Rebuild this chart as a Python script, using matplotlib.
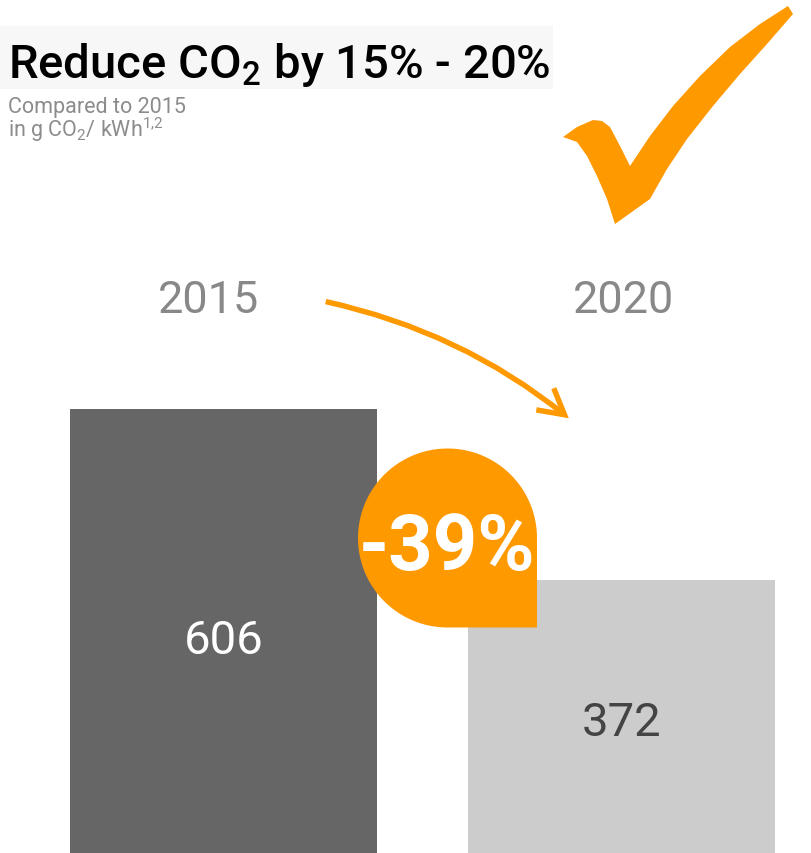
import matplotlib
matplotlib.use("Agg")
import matplotlib.pyplot as plt
from matplotlib.patches import Polygon, Rectangle, FancyArrowPatch
import numpy as np

plt.rcParams['font.family'] = ['Roboto', 'DejaVu Sans']

years = ['2015', '2020']
values = [606, 372]
bar_colors = ['#666666', '#cccccc']
label_colors = ['white', '#444444']
change = '-39%'
orange = '#ff9900'

W, H = 812, 854
fig = plt.figure(figsize=(W / 100, H / 100), dpi=100)

# bars
ax = fig.add_axes([0, 0, 1, 1])
ax.bar(range(len(values)), values, width=0.771, color=bar_colors)
ax.set_xlim(-0.5616, 1.4786)
ax.set_ylim(0, 1165.6)
ax.axis('off')
for i, v in enumerate(values):
    ax.text(i, v * 0.48, str(v), ha='center', va='center', fontsize=34,
            color=label_colors[i])

# overlay in pixel coords for the decorations
ov = fig.add_axes([0, 0, 1, 1])
ov.set_xlim(0, W)
ov.set_ylim(H, 0)
ov.axis('off')
ov.patch.set_alpha(0)

ov.add_patch(Rectangle((0, 27), 553, 63, color='#f7f7f7', lw=0, zorder=0))
ov.text(8, 78, r'Reduce CO$_\mathregular{2}$ by 15% - 20%', fontsize=34,
        fontweight='medium', color='black', va='baseline')
ov.text(8, 112.5, 'Compared to 2015', fontsize=15.5, color='#8c8c8c', va='baseline')
ov.text(8, 137, r'in g CO$_\mathregular{2}$/ kWh$^\mathregular{1{,}2}$', fontsize=15.5,
        color='#8c8c8c', va='baseline')

year_x = [209, 624]
for x, y in zip(year_x, years):
    ov.text(x, 313, y, ha='center', va='baseline', fontsize=32.4, color='#888888')

# checkmark
check = [(563, 138), (577, 128), (593, 121), (602, 122), (610, 128), (620, 147),
         (630, 167), (650, 137), (673, 107), (700, 77), (730, 48), (760, 25),
         (788, 7), (793, 15), (767, 45), (740, 75), (713, 107), (687, 140),
         (667, 170), (650, 200), (615, 225), (607, 200), (597, 177), (587, 157),
         (577, 143)]
ov.add_patch(Polygon(check, closed=True, color=orange, lw=0))

# arrow
ov.add_patch(FancyArrowPatch((323, 302), (571, 421),
                             connectionstyle='arc3,rad=-0.12',
                             arrowstyle='->,head_length=18,head_width=10',
                             mutation_scale=1, lw=3.9, color=orange,
                             capstyle='butt', joinstyle='miter'))

# badge
cx, cy, r = 447.5, 539, 89.5
t = np.linspace(0, 1.5 * np.pi, 120)
pts = list(zip(cx + r * np.cos(t), cy - r * np.sin(t)))
pts += [(cx, cy + r), (cx + r, cy + r), (cx + r, cy)]
ov.add_patch(Polygon(pts, closed=True, color=orange, lw=0))
ov.text(cx, 570, change, ha='center', va='baseline', fontsize=56,
        fontweight='bold', color='white')

fig.savefig('out.png', dpi=100)
